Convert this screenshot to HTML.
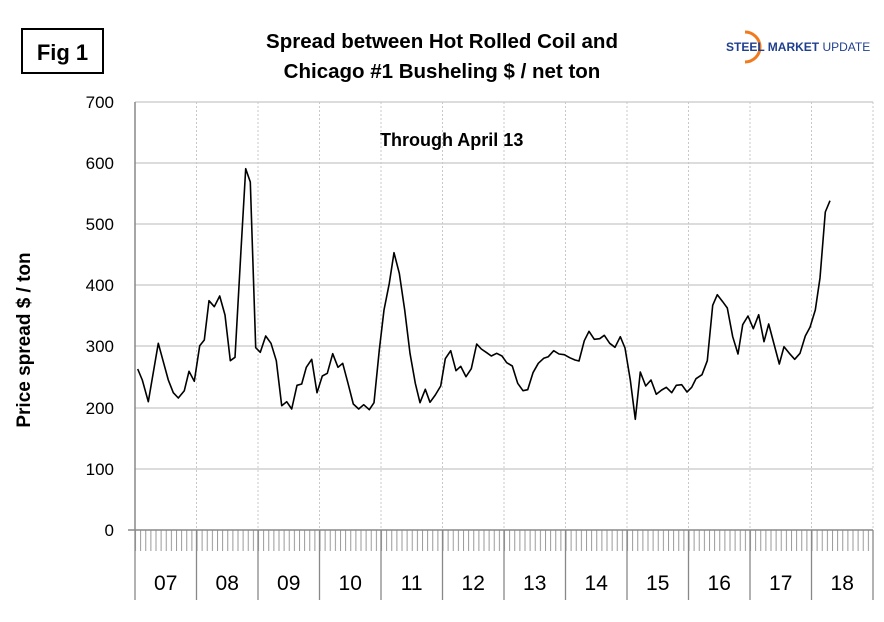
<!DOCTYPE html>
<html><head><meta charset="utf-8"><style>
body{margin:0;background:#fff;}
svg{display:block;font-family:"Liberation Sans",Arial,sans-serif;}
</style></head><body>
<svg width="884" height="622" viewBox="0 0 884 622">
<defs>
<pattern id="tk" x="135" y="530" width="5.125" height="21" patternUnits="userSpaceOnUse">
<line x1="0.5" y1="0" x2="0.5" y2="21" stroke="#999" stroke-width="1"/>
</pattern>
</defs>
<rect width="884" height="622" fill="#fff"/>
<rect x="22" y="29" width="81" height="44" fill="#fff" stroke="#000" stroke-width="2"/>
<text x="62.5" y="60" font-size="22" font-weight="bold" text-anchor="middle">Fig 1</text>
<text x="442" y="48" font-size="20.5" font-weight="bold" text-anchor="middle">Spread between Hot Rolled Coil and</text>
<text x="442" y="78" font-size="20.5" font-weight="bold" text-anchor="middle">Chicago #1 Busheling  $ / net ton</text>
<path d="M745 32 A14 14 0 1 1 745 62" fill="none" stroke="#f07a1c" stroke-width="3"/>
<text x="726" y="51" font-size="12" fill="#1f3f8f"><tspan font-weight="bold">STEEL MARKET</tspan> UPDATE</text>
<text x="380" y="146" font-size="18" font-weight="bold">Through April 13</text>
<g stroke="#d0d0d0" stroke-width="1.5">
<line x1="135" y1="102" x2="873" y2="102"/><line x1="135" y1="163" x2="873" y2="163"/>
<line x1="135" y1="224" x2="873" y2="224"/><line x1="135" y1="285" x2="873" y2="285"/>
<line x1="135" y1="346" x2="873" y2="346"/><line x1="135" y1="408" x2="873" y2="408"/>
<line x1="135" y1="469" x2="873" y2="469"/>
</g>
<g stroke="#c8c8c8" stroke-width="1" stroke-dasharray="2,2">
<line x1="196.5" y1="102" x2="196.5" y2="530"/><line x1="258" y1="102" x2="258" y2="530"/>
<line x1="319.5" y1="102" x2="319.5" y2="530"/><line x1="381" y1="102" x2="381" y2="530"/>
<line x1="442.5" y1="102" x2="442.5" y2="530"/><line x1="504" y1="102" x2="504" y2="530"/>
<line x1="565.5" y1="102" x2="565.5" y2="530"/><line x1="627" y1="102" x2="627" y2="530"/>
<line x1="688.5" y1="102" x2="688.5" y2="530"/><line x1="750" y1="102" x2="750" y2="530"/>
<line x1="811.5" y1="102" x2="811.5" y2="530"/><line x1="873" y1="102" x2="873" y2="530"/>
</g>
<line x1="135" y1="102" x2="135" y2="530" stroke="#888" stroke-width="1.5"/>
<rect x="135" y="530" width="738" height="21" fill="url(#tk)"/>
<line x1="128" y1="530" x2="873" y2="530" stroke="#888" stroke-width="1.5"/>
<g font-size="17" text-anchor="end">
<text x="114" y="108">700</text><text x="114" y="169">600</text><text x="114" y="230">500</text>
<text x="114" y="291">400</text><text x="114" y="352">300</text><text x="114" y="414">200</text>
<text x="114" y="475">100</text><text x="114" y="536">0</text>
</g>
<text transform="translate(30,340) rotate(-90)" font-size="19" font-weight="bold" text-anchor="middle">Price spread $ / ton</text>
<g stroke="#888" stroke-width="1.3">
<line x1="135" y1="530" x2="135" y2="600"/><line x1="196.5" y1="530" x2="196.5" y2="600"/>
<line x1="258" y1="530" x2="258" y2="600"/><line x1="319.5" y1="530" x2="319.5" y2="600"/>
<line x1="381" y1="530" x2="381" y2="600"/><line x1="442.5" y1="530" x2="442.5" y2="600"/>
<line x1="504" y1="530" x2="504" y2="600"/><line x1="565.5" y1="530" x2="565.5" y2="600"/>
<line x1="627" y1="530" x2="627" y2="600"/><line x1="688.5" y1="530" x2="688.5" y2="600"/>
<line x1="750" y1="530" x2="750" y2="600"/><line x1="811.5" y1="530" x2="811.5" y2="600"/>
<line x1="873" y1="530" x2="873" y2="600"/>
</g>
<g font-size="21" text-anchor="middle">
<text x="165.7" y="590">07</text><text x="227.2" y="590">08</text><text x="288.7" y="590">09</text>
<text x="350.2" y="590">10</text><text x="411.7" y="590">11</text><text x="473.2" y="590">12</text>
<text x="534.7" y="590">13</text><text x="596.2" y="590">14</text><text x="657.7" y="590">15</text>
<text x="719.2" y="590">16</text><text x="780.7" y="590">17</text><text x="842.2" y="590">18</text>
</g>
<polyline fill="none" stroke="#000" stroke-width="1.6" stroke-linejoin="round" points="
137.7,369 142.3,380 148.3,401.7 158.3,343.3 163.3,361.7 168.3,380 173.3,392.7 178.3,398 184.3,390.7 189,371.3 194.3,381.3 199.7,345.7 204.3,340 209,300.7 214.3,306.7 219.7,296 225,315 230.3,360.7 235,357.3 241,250 245.7,168.7 250.3,182 255.7,347.7 260.3,352.3 265.7,336 271,343.3 276.3,360.7 281.7,405.7 286.7,401.7 291.7,409 297,385.3 301.7,384 306.3,367.3 311.7,359.3 317,392.7 322.3,376 327.3,373.3 332.7,353.7 338,367.3 342.7,363.3 348,383.3 353.3,404 358.7,409 363.7,404.7 369.3,409.7 374,402.7 379.3,350 384,310 389.3,283.3 394,252.7 399.3,273.3 404.7,310 410,353.3 415.3,383.3 420,402.7 425.3,389.3 430,402.3 435.3,395 440.7,386 445.3,358.7 450.7,350.7 456,370.7 460.7,366.3 466,376.7 471.3,368.7 476.7,344 481.3,349 486.7,352.7 491.3,356 496.7,353.3 502,356 506.7,362.7 512.3,366 517.7,383.3 523,390.7 527.7,389.7 533,372.7 538.3,363.3 543.7,358.3 548.3,356.7 553.7,350.7 559,354 564.3,354.7 569.7,357.7 575,360 579,361 584.3,340.7 589,331.3 594.3,339.3 599.7,338.7 604.3,335.3 609.7,343.3 615,347.3 620.3,336.7 625,348 630.3,380 635.3,419.3 640.3,372 645.7,386 651,380 656.3,394.3 661.7,390 666.3,387.3 671.7,392.7 676.3,385.3 681.7,384.7 687,392 691.7,387.3 696,378.7 702,374.7 707.3,360.7 712.7,305.3 717.3,294.7 722.7,301.7 727.3,308 732.7,336.7 738,354 742.7,324.7 748,316 753.3,328.7 758.7,314.7 764,341.7 768.7,324 774,344 779.3,364 784,346.7 789.3,353.3 794.7,359.3 800,353.3 805.3,336 810,327.3 815.3,310 820,278 825.3,212 830,200.7"/>
</svg>
</body></html>
